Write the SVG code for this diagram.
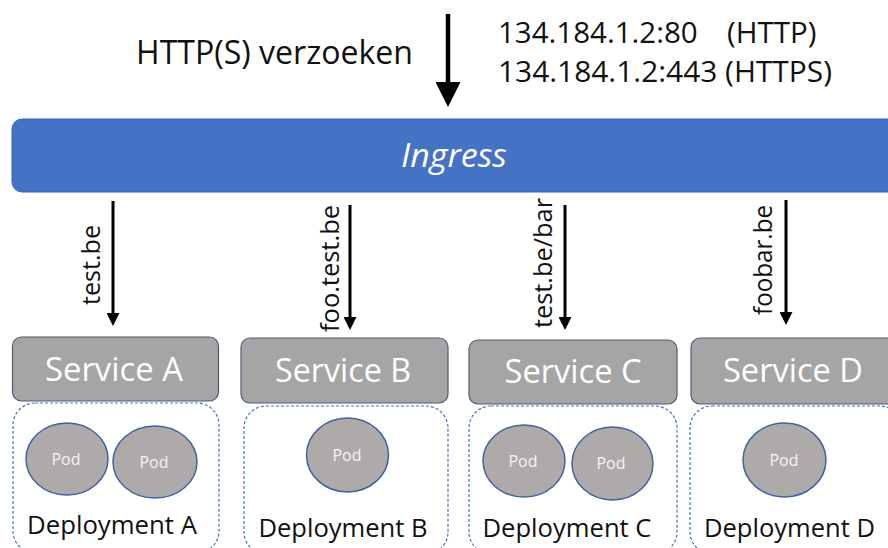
<svg xmlns="http://www.w3.org/2000/svg" width="888" height="548" viewBox="0 0 888 548">
  <style>
    text { font-family: "Open Sans", "Liberation Sans", sans-serif; }
    .title { font-size: 32px; fill: #111111; }
    .addr { font-size: 29.5px; fill: #111111; }
    .ingress-label { font-size: 33px; font-style: italic; fill: #ffffff; text-anchor: middle; }
    .route { font-size: 25px; fill: #111111; }
    .svc { fill: #a5a5a5; stroke: #4e5d75; stroke-width: 1.2; }
    .svc-label { font-size: 32px; fill: #ffffff; text-anchor: middle; }
    .deploy { fill: none; stroke: #4472c4; stroke-width: 1.2; stroke-dasharray: 3 2; }
    .deploy-label { font-size: 25.5px; fill: #111111; text-anchor: middle; }
    .pod { fill: #aeaaaa; stroke: #3f62a0; stroke-width: 1.5; }
    .pod-label { font-size: 16px; fill: #f4f4f4; text-anchor: middle; }
    .arrow { stroke: #000000; stroke-width: 3; fill: none; marker-end: url(#head); }
    .arrow-main { stroke: #000000; stroke-width: 4.5; fill: none; marker-end: url(#head-big); }
  </style>
  <defs>
    <marker id="head" viewBox="0 0 13 13" refX="1" refY="6.5" markerWidth="13" markerHeight="13" markerUnits="userSpaceOnUse" orient="auto">
      <path d="M0,0 L13,6.5 L0,13 z" fill="#000000"/>
    </marker>
    <marker id="head-big" viewBox="0 0 25 25" refX="1" refY="12.5" markerWidth="25" markerHeight="25" markerUnits="userSpaceOnUse" orient="auto">
      <path d="M0,0 L25,12.5 L0,25 z" fill="#000000"/>
    </marker>
  </defs>

  <!-- incoming request annotation -->
  <g id="request-info">
    <text class="title" x="136" y="64" textLength="277" lengthAdjust="spacingAndGlyphs">HTTP(S) verzoeken</text>
    <text class="addr" x="498" y="43">134.184.1.2:80 <tspan x="727">(HTTP)</tspan></text>
    <text class="addr" x="498" y="82" textLength="334" lengthAdjust="spacingAndGlyphs">134.184.1.2:443 (HTTPS)</text>
  </g>

  <!-- ingress controller bar -->
  <g id="ingress">
    <rect x="12" y="119" width="900" height="73" rx="10" ry="10" fill="#4472c4" stroke="#3b65b3" stroke-width="1"/>
    <text class="ingress-label" x="454" y="167" textLength="106" lengthAdjust="spacingAndGlyphs">Ingress</text>
  </g>

  <!-- routing arrows -->
  <g id="connectors">
    <line class="arrow-main" x1="448" y1="14" x2="448" y2="83"/>
    <line class="arrow" x1="113" y1="201" x2="113" y2="314"/>
    <line class="arrow" x1="350" y1="205" x2="350" y2="318"/>
    <line class="arrow" x1="565" y1="205" x2="565" y2="318"/>
    <line class="arrow" x1="786" y1="200" x2="786" y2="313"/>
  </g>

  <!-- host / path rules -->
  <g id="routes">
    <text class="route" transform="translate(100,305) rotate(-90)" textLength="80" lengthAdjust="spacingAndGlyphs">test.be</text>
    <text class="route" transform="translate(339,332) rotate(-90)" textLength="127" lengthAdjust="spacingAndGlyphs">foo.test.be</text>
    <text class="route" transform="translate(552,328) rotate(-90)" textLength="130" lengthAdjust="spacingAndGlyphs">test.be/bar</text>
    <text class="route" transform="translate(772,315) rotate(-90)" textLength="110" lengthAdjust="spacingAndGlyphs">foobar.be</text>
  </g>

  <g id="service-a">
    <rect class="svc" x="12.5" y="337" width="206" height="64" rx="9"/>
    <text class="svc-label" x="114" y="381" textLength="138" lengthAdjust="spacingAndGlyphs">Service A</text>
  </g>
  <g id="deployment-a">
    <rect class="deploy" x="13" y="403" width="206" height="150" rx="22"/>
    <ellipse class="pod" cx="67" cy="459" rx="41" ry="36"/>
    <text class="pod-label" x="66" y="465">Pod</text>
    <ellipse class="pod" cx="155" cy="462" rx="42" ry="36"/>
    <text class="pod-label" x="154" y="468">Pod</text>
    <text class="deploy-label" x="112" y="534" textLength="170" lengthAdjust="spacingAndGlyphs">Deployment A</text>
  </g>

  <g id="service-b">
    <rect class="svc" x="241" y="338" width="207" height="65" rx="9"/>
    <text class="svc-label" x="343" y="382" textLength="136" lengthAdjust="spacingAndGlyphs">Service B</text>
  </g>
  <g id="deployment-b">
    <rect class="deploy" x="244" y="406" width="204" height="148" rx="22"/>
    <ellipse class="pod" cx="347.5" cy="455" rx="41" ry="37"/>
    <text class="pod-label" x="347" y="461">Pod</text>
    <text class="deploy-label" x="343" y="537" textLength="169" lengthAdjust="spacingAndGlyphs">Deployment B</text>
  </g>

  <g id="service-c">
    <rect class="svc" x="469" y="340" width="208" height="64" rx="9"/>
    <text class="svc-label" x="573" y="383" textLength="137" lengthAdjust="spacingAndGlyphs">Service C</text>
  </g>
  <g id="deployment-c">
    <rect class="deploy" x="469" y="406" width="208" height="148" rx="22"/>
    <ellipse class="pod" cx="524" cy="461" rx="41" ry="36"/>
    <text class="pod-label" x="523" y="467">Pod</text>
    <ellipse class="pod" cx="612.5" cy="463.5" rx="40.5" ry="36.5"/>
    <text class="pod-label" x="611" y="469">Pod</text>
    <text class="deploy-label" x="567" y="537" textLength="169" lengthAdjust="spacingAndGlyphs">Deployment C</text>
  </g>

  <g id="service-d">
    <rect class="svc" x="691" y="338" width="210" height="66" rx="9"/>
    <text class="svc-label" x="793" y="382" textLength="140" lengthAdjust="spacingAndGlyphs">Service D</text>
  </g>
  <g id="deployment-d">
    <rect class="deploy" x="690" y="406" width="212" height="148" rx="22"/>
    <ellipse class="pod" cx="784.5" cy="460" rx="41.5" ry="37"/>
    <text class="pod-label" x="784" y="466">Pod</text>
    <text class="deploy-label" x="789.5" y="537" textLength="171" lengthAdjust="spacingAndGlyphs">Deployment D</text>
  </g>
</svg>
